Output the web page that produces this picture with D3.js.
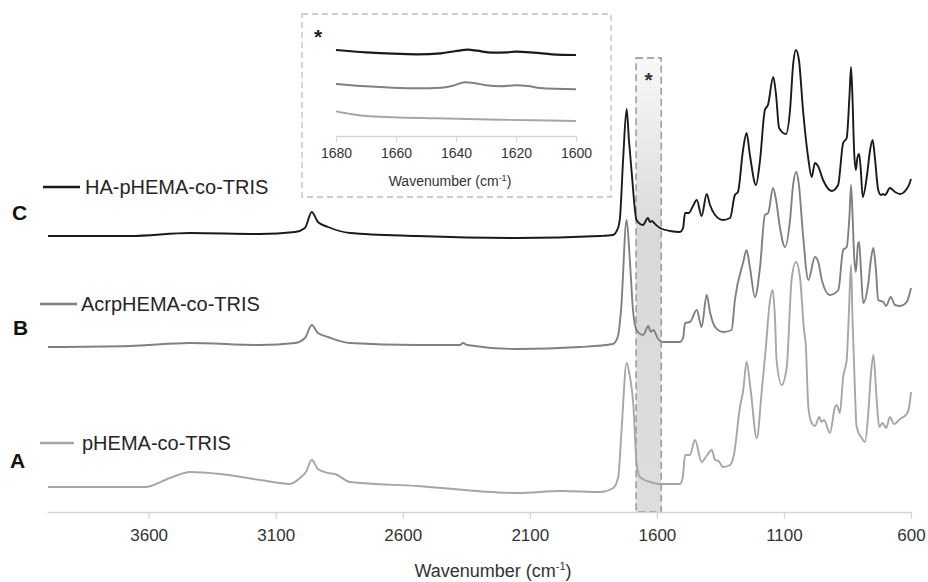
<!DOCTYPE html>
<html>
<head>
<meta charset="utf-8">
<script src="https://cdn.jsdelivr.net/npm/d3@7/dist/d3.min.js"></script>
<style>
  html, body { margin: 0; padding: 0; background: #fff; }
  svg { display: block; font-family: "Liberation Sans", Arial, sans-serif; }
</style>
</head>
<body>
<svg id="chart" width="928" height="582"></svg>
<script>
// ---------------- DATA ----------------
const seriesNames = ["HA-pHEMA-co-TRIS", "AcrpHEMA-co-TRIS", "pHEMA-co-TRIS"];
const seriesLetters = ["C", "B", "A"];
const xTicks = [3600, 3100, 2600, 2100, 1600, 1100, 600];
const insetTicks = [1680, 1660, 1640, 1620, 1600];
const bandRange = [1682, 1583];

// Series C (HA-pHEMA-co-TRIS), offset absorbance
const wnC = [3996,3673,3437,3162,3024,2985,2958,2934,2894,2808,2544,2150,1824,1773,1753,1745,1733,1719,1710,1699,1680,1655,1635,1627,1619,1611,1588,1548,1509,1497,1489,1474,1458,1443,1424,1404,1391,1371,1340,1312,1293,1281,1261,1247,1234,1210,1194,1175,1163,1142,1131,1119,1092,1076,1064,1053,1041,1025,1005,991,978,966,946,912,887,867,853,842,836,830,824,817,811,804,797,790,773,761,751,742,729,718,710,702,683,663,643,620,608,600];
const absC = [2.76,2.76,2.79,2.78,2.80,2.84,3.00,2.90,2.85,2.79,2.76,2.74,2.76,2.77,2.84,2.95,3.52,4.03,3.72,3.39,2.92,2.87,2.94,2.90,2.91,2.89,2.84,2.81,2.80,2.84,2.99,2.99,3.06,3.12,2.96,3.18,3.07,2.97,2.92,2.94,3.17,3.20,3.62,3.79,3.57,3.27,3.52,4.02,4.07,4.35,4.17,3.84,3.78,4.02,4.47,4.62,4.52,4.02,3.55,3.35,3.49,3.46,3.32,3.21,3.27,3.69,3.74,4.17,4.45,4.12,3.62,3.42,3.54,3.58,3.40,3.15,3.37,3.62,3.72,3.54,3.22,3.17,3.18,3.17,3.24,3.20,3.18,3.22,3.27,3.33];

// Series B (AcrpHEMA-co-TRIS)
const wnB = [3996,3673,3437,3162,3024,2985,2958,2934,2894,2808,2544,2375,2363,2347,2150,1903,1773,1753,1741,1719,1706,1694,1680,1654,1634,1624,1614,1595,1575,1509,1497,1489,1470,1443,1424,1404,1391,1371,1339,1306,1293,1260,1247,1234,1214,1194,1175,1162,1143,1131,1116,1096,1076,1064,1051,1041,1025,1004,978,965,950,919,886,867,853,842,836,830,824,817,809,804,797,788,768,758,748,738,729,709,698,680,663,643,617,608,600];
const absB = [1.65,1.66,1.69,1.67,1.69,1.74,1.87,1.79,1.75,1.69,1.67,1.67,1.69,1.67,1.63,1.65,1.68,1.76,2.02,2.92,2.50,2.02,1.82,1.77,1.86,1.80,1.82,1.73,1.70,1.70,1.74,1.89,1.90,2.02,1.85,2.17,2.00,1.85,1.80,1.82,2.12,2.50,2.62,2.45,2.15,2.45,2.97,2.99,3.24,3.12,2.85,2.65,2.92,3.27,3.40,3.27,2.77,2.32,2.55,2.50,2.31,2.17,2.22,2.62,2.65,2.97,3.27,2.97,2.57,2.40,2.67,2.70,2.42,2.09,2.29,2.52,2.64,2.42,2.12,2.10,2.06,2.15,2.07,2.06,2.10,2.16,2.24];

// Series A (pHEMA-co-TRIS)
const wnA = [3996,3614,3516,3437,3319,3162,3044,3004,2981,2958,2934,2894,2867,2808,2544,2150,1975,1824,1772,1752,1739,1719,1706,1693,1680,1667,1627,1588,1509,1498,1489,1470,1450,1424,1407,1384,1371,1358,1339,1312,1297,1273,1260,1247,1231,1207,1188,1171,1157,1144,1135,1129,1109,1089,1070,1053,1037,1021,1014,1004,991,978,961,952,942,919,899,892,880,867,853,844,836,830,822,814,794,781,768,758,748,735,725,712,698,683,667,643,617,608,600];
const absA = [0.25,0.25,0.34,0.40,0.38,0.32,0.28,0.34,0.40,0.52,0.43,0.39,0.38,0.30,0.26,0.19,0.21,0.20,0.24,0.35,0.82,1.49,1.35,1.09,0.49,0.35,0.30,0.28,0.28,0.35,0.57,0.57,0.72,0.50,0.55,0.62,0.52,0.51,0.45,0.47,0.57,1.05,1.22,1.50,1.22,0.74,1.19,1.65,2.07,2.22,1.92,1.52,1.27,1.45,2.32,2.50,2.35,1.82,1.67,1.05,0.89,0.86,0.95,0.90,0.92,0.79,1.05,1.07,0.99,1.35,1.52,2.02,2.47,1.92,1.32,0.85,0.74,0.70,0.99,1.37,1.57,1.12,0.85,0.89,0.84,0.95,0.88,0.93,0.98,1.04,1.20];

// Inset (1680-1600 cm-1 zoom)
const insetWnC = [1680,1670,1661,1653,1645,1640,1636,1633,1628,1623,1620,1614,1608,1600];
const insetC = [0.86,0.837,0.823,0.817,0.827,0.85,0.863,0.853,0.833,0.837,0.843,0.833,0.817,0.81];
const insetWnB = [1680,1670,1661,1653,1645,1641,1637,1634,1630,1625,1620,1616,1612,1600];
const insetB = [0.52,0.497,0.483,0.477,0.483,0.503,0.537,0.53,0.507,0.497,0.507,0.50,0.48,0.467];
const insetWnA = [1680,1675,1670,1661,1647,1636,1625,1614,1600];
const insetA = [0.247,0.22,0.20,0.187,0.177,0.17,0.163,0.157,0.15];

// ---------------- DRAW ----------------
const colors = ["#1a1a1a", "#808080", "#a6a6a6"];
const svg = d3.select("#chart");

const x = d3.scaleLinear().domain([4000, 600]).range([47, 911]);
const y = d3.scaleLinear().domain([0, 4.72]).range([512, 40]);

const defs = svg.append("defs");
const grad = defs.append("linearGradient").attr("id", "bandGrad")
  .attr("x1", 0).attr("y1", 0).attr("x2", 0).attr("y2", 1);
grad.append("stop").attr("offset", "0%").attr("stop-color", "#f8f8f8");
grad.append("stop").attr("offset", "40%").attr("stop-color", "#d9d9d9");
grad.append("stop").attr("offset", "100%").attr("stop-color", "#dddddd");

// highlighted band
svg.append("rect")
  .attr("x", x(bandRange[0])).attr("y", 58)
  .attr("width", x(bandRange[1]) - x(bandRange[0]))
  .attr("height", y(0) - 58)
  .attr("fill", "url(#bandGrad)")
  .attr("stroke", "#8c8c8c").attr("stroke-width", 1.3)
  .attr("stroke-dasharray", "7,4");
svg.append("text").attr("x", (x(bandRange[0]) + x(bandRange[1])) / 2).attr("y", 87)
  .attr("text-anchor", "middle").attr("font-size", 21).attr("font-weight", "bold")
  .attr("fill", "#333").text("*");

// main axis
const xAxis = d3.axisBottom(x).tickValues(xTicks).tickSize(7).tickSizeOuter(0).tickPadding(10)
  .tickFormat(d3.format("d"));
const gx = svg.append("g").attr("transform", `translate(0,${y(0)})`).call(xAxis);
gx.select(".domain").attr("stroke", "#d4d4d4").attr("stroke-width", 1.6);
gx.selectAll(".tick line").attr("stroke", "#d4d4d4").attr("stroke-width", 1.2);
gx.selectAll(".tick text").attr("font-size", 17).attr("fill", "#333")
  .attr("font-family", "'Liberation Sans', Arial, sans-serif");

const xt = svg.append("text").attr("x", 493).attr("y", 577).attr("text-anchor", "middle")
  .attr("font-size", 18).attr("fill", "#333");
xt.append("tspan").text("Wavenumber (cm");
xt.append("tspan").attr("font-size", 11).attr("dy", -7).text("-1");
xt.append("tspan").attr("dy", 7).text(")");

// spectra
const line = d3.line().x(d => x(d[0])).y(d => y(d[1])).curve(d3.curveMonotoneX);
const mainSeries = [
  d3.zip(wnC, absC),
  d3.zip(wnB, absB),
  d3.zip(wnA, absA)
];
mainSeries.forEach((s, i) => {
  svg.append("path").datum(s).attr("d", line)
    .attr("fill", "none").attr("stroke", colors[i]).attr("stroke-width", 1.9)
    .attr("stroke-linejoin", "round");
});

// legends and letters
const legendY = [187, 304, 443];
const legendLine = [[43, 80], [40, 77], [40, 74]];
const legendTextX = [85, 81, 82];
const letterY = [220, 335, 468];
const letterX = [12, 13, 10];
seriesNames.forEach((name, i) => {
  svg.append("line").attr("x1", legendLine[i][0]).attr("x2", legendLine[i][1])
    .attr("y1", legendY[i]).attr("y2", legendY[i])
    .attr("stroke", colors[i]).attr("stroke-width", 2.5);
  svg.append("text").attr("x", legendTextX[i]).attr("y", legendY[i] + 7)
    .attr("font-size", 20).attr("fill", "#262626").text(name);
  svg.append("text").attr("x", letterX[i]).attr("y", letterY[i])
    .attr("font-size", 21).attr("font-weight", "bold").attr("fill", "#111").text(seriesLetters[i]);
});

// inset
svg.append("rect").attr("x", 302).attr("y", 14).attr("width", 309).attr("height", 183)
  .attr("fill", "#fff").attr("stroke", "#bfbfbf").attr("stroke-width", 1.3)
  .attr("stroke-dasharray", "6,4");
svg.append("text").attr("x", 318).attr("y", 44).attr("text-anchor", "middle")
  .attr("font-size", 21).attr("font-weight", "bold").attr("fill", "#222").text("*");

const xi = d3.scaleLinear().domain([1680, 1600]).range([336, 576]);
const yi = d3.scaleLinear().domain([0, 1.36]).range([136, 0]);
const iAxis = d3.axisBottom(xi).tickValues(insetTicks).tickSize(6).tickSizeOuter(0).tickPadding(6)
  .tickFormat(d3.format("d"));
const gi = svg.append("g").attr("transform", `translate(0,${yi(0)})`).call(iAxis);
gi.select(".domain").attr("stroke", "#d4d4d4").attr("stroke-width", 1.4);
gi.selectAll(".tick line").attr("stroke", "#d4d4d4").attr("stroke-width", 1.1);
gi.selectAll(".tick text").attr("font-size", 14).attr("fill", "#333")
  .attr("font-family", "'Liberation Sans', Arial, sans-serif");
const it = svg.append("text").attr("x", 450).attr("y", 186).attr("text-anchor", "middle")
  .attr("font-size", 14).attr("fill", "#333");
it.append("tspan").text("Wavenumber (cm");
it.append("tspan").attr("font-size", 9).attr("dy", -5).text("-1");
it.append("tspan").attr("dy", 5).text(")");

const iline = d3.line().x(d => xi(d[0])).y(d => yi(d[1])).curve(d3.curveMonotoneX);
[d3.zip(insetWnC, insetC), d3.zip(insetWnB, insetB), d3.zip(insetWnA, insetA)].forEach((s, i) => {
  svg.append("path").datum(s).attr("d", iline)
    .attr("fill", "none").attr("stroke", colors[i]).attr("stroke-width", i === 0 ? 2.2 : 1.9);
});
</script>
</body>
</html>
